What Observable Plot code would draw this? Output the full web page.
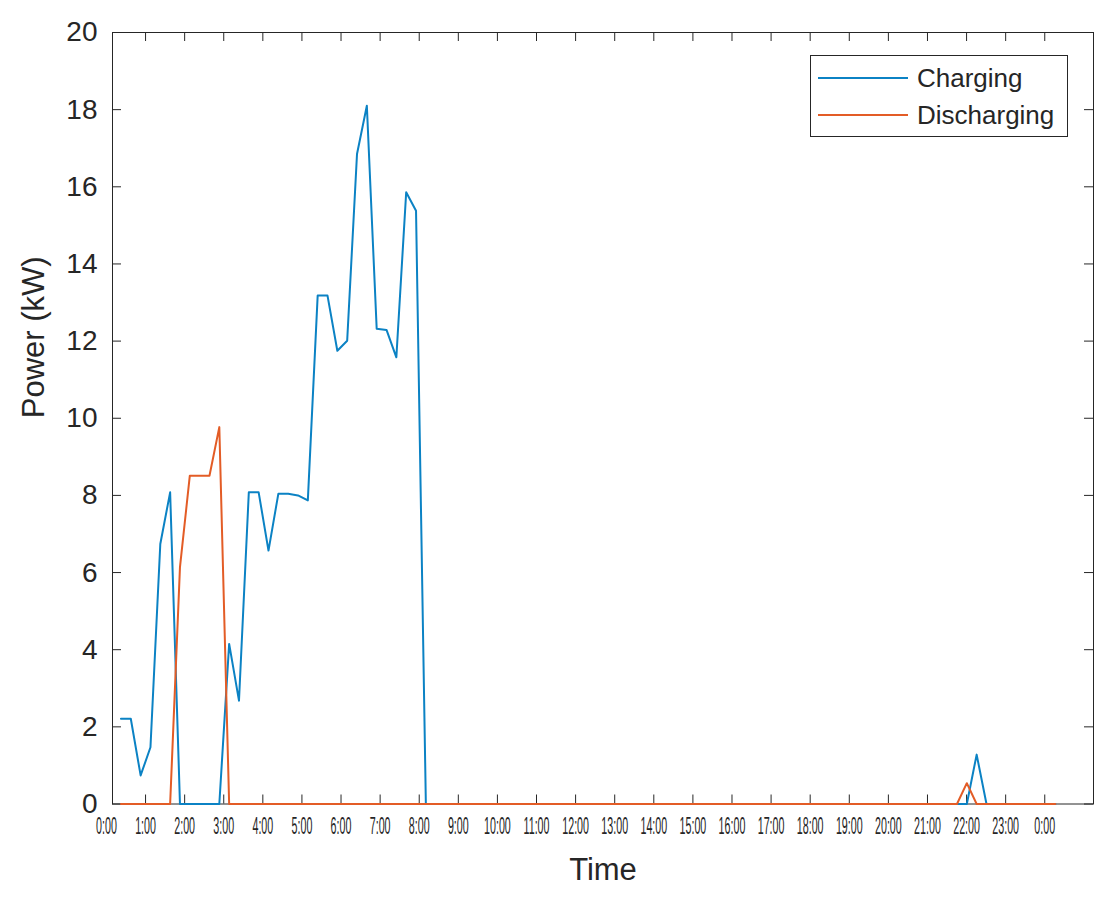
<!DOCTYPE html>
<html>
<head>
<meta charset="utf-8">
<script src="https://cdn.jsdelivr.net/npm/d3@7"></script>
<script src="https://cdn.jsdelivr.net/npm/@observablehq/plot@0.6"></script>
<style>
  html, body { margin: 0; padding: 0; background: #fff; overflow: hidden; }
  #wrap { position: relative; width: 1114px; height: 918px; }
  #wrap svg { position: absolute; left: 0; top: 0; }
  #legend {
    position: absolute; left: 810px; top: 55px; width: 258px; height: 82px;
    box-sizing: border-box; border: 1px solid #262626; background: #fff;
    font-family: "Liberation Sans", Arial, sans-serif; font-size: 26px; color: #262626;
  }
  #legend .row { position: absolute; left: 0; height: 30px; display: flex; align-items: center; white-space: nowrap; }
  #legend .sw { width: 90px; margin-left: 7px; height: 0; border-top: 2px solid; }
  #legend .lab { margin-left: 9px; line-height: 30px; }
</style>
</head>
<body>
<div id="wrap"><div id="legend"></div></div>
<script>
// 15-minute slots of the day (x positions of the samples)
const slots = d3.range(1, 97);

// Charging power (kW), one value per slot
const charging = [
  2.21, 2.21, 0.74, 1.47, 6.74, 8.08, 0, 0,
  0, 0, 0, 4.15, 2.68, 8.08, 8.08, 6.57,
  8.04, 8.04, 8.00, 7.87, 13.18, 13.18, 11.75, 12.01,
  16.85, 18.10, 12.32, 12.29, 11.58, 15.86, 15.38, 0,
  0, 0, 0, 0, 0, 0, 0, 0,
  0, 0, 0, 0, 0, 0, 0, 0,
  0, 0, 0, 0, 0, 0, 0, 0,
  0, 0, 0, 0, 0, 0, 0, 0,
  0, 0, 0, 0, 0, 0, 0, 0,
  0, 0, 0, 0, 0, 0, 0, 0,
  0, 0, 0, 0, 0, 0, 0, 1.28,
  0, 0, 0, 0, 0, 0, 0, 0
];

// Discharging power (kW), one value per slot
const discharging = [
  0, 0, 0, 0, 0, 0, 6.14, 8.51,
  8.51, 8.51, 9.77, 0, 0, 0, 0, 0,
  0, 0, 0, 0, 0, 0, 0, 0,
  0, 0, 0, 0, 0, 0, 0, 0,
  0, 0, 0, 0, 0, 0, 0, 0,
  0, 0, 0, 0, 0, 0, 0, 0,
  0, 0, 0, 0, 0, 0, 0, 0,
  0, 0, 0, 0, 0, 0, 0, 0,
  0, 0, 0, 0, 0, 0, 0, 0,
  0, 0, 0, 0, 0, 0, 0, 0,
  0, 0, 0, 0, 0, 0, 0.54, 0,
  0, 0, 0, 0, 0, 0, 0, 0
];

// Hour tick labels
const hourLabels = [
  "0:00", "1:00", "2:00", "3:00", "4:00", "5:00", "6:00", "7:00", "8:00",
  "9:00", "10:00", "11:00", "12:00", "13:00", "14:00", "15:00", "16:00",
  "17:00", "18:00", "19:00", "20:00", "21:00", "22:00", "23:00", "0:00"
];
const yTicks = [0, 2, 4, 6, 8, 10, 12, 14, 16, 18, 20];

const seriesNames = ["Charging", "Discharging"];

// ---- build tables ----
const rows = slots.map((s, i) => ({ slot: s, charging: charging[i], discharging: discharging[i] }));
// axis calibration of the original figure: hour h sits at this slot value
const hourSlot = h => 3.5 + 3.975 * (h - 1);
const hourTicks = hourLabels.map((t, h) => ({ h, slot: hourSlot(h), t }));
const tickMarks = hourTicks.filter(d => d.h > 0).map(d => d.slot);

const W = 1114, H = 918, mL = 112, mR = 21, mT = 32, mB = 114.5;
const frameW = W - mL - mR, frameH = H - mT - mB;
const tickLen = 9;
const ink = "#262626";
const blue = "#0b82c4", orange = "#e35c26";
const font = '"Liberation Sans", Arial, sans-serif';

const chart = Plot.plot({
  width: W, height: H,
  marginLeft: mL, marginRight: mR, marginTop: mT, marginBottom: mB,
  style: { fontFamily: font, color: ink, background: "#fff", overflow: "visible" },
  x: { domain: [0.14, 99.88], axis: null },
  y: { domain: [0, 20] },
  marks: [
    Plot.frame({ stroke: ink, strokeWidth: 1 }),
    // inward ticks on all four sides
    Plot.ruleX(tickMarks, { stroke: ink, insetTop: frameH - tickLen }),
    Plot.ruleX(tickMarks, { stroke: ink, insetBottom: frameH - tickLen }),
    Plot.ruleY(yTicks, { stroke: ink, insetRight: frameW - tickLen }),
    Plot.ruleY(yTicks, { stroke: ink, insetLeft: frameW - tickLen }),
    Plot.axisY(yTicks, { anchor: "left", tickSize: 0, tickPadding: 15, fontSize: 28, label: null, tickFormat: d => String(d) }),
    Plot.text(hourTicks, { x: "slot", text: "t", frameAnchor: "bottom", lineAnchor: "top", dy: 13, fontSize: 23.5, fill: ink }),
    Plot.line(rows, { x: "slot", y: "charging", stroke: blue, strokeWidth: 2 }),
    Plot.line(rows, { x: "slot", y: "discharging", stroke: orange, strokeWidth: 2 }),
    Plot.text(["Power (kW)"], { frameAnchor: "left", dx: -78.6, rotate: -90, fontSize: 31, fill: ink }),
    Plot.text(["Time"], { frameAnchor: "bottom", dy: 76, fontSize: 31, fill: ink })
  ]
});

// condensed hour labels, as in the original figure
const labelSet = new Set(hourLabels);
chart.querySelectorAll("text").forEach(t => {
  if (!labelSet.has(t.textContent.trim())) return;
  const tr = t.getAttribute("transform");
  if (tr) {
    t.setAttribute("transform", tr + " scale(0.455,1)");
  } else {
    const x = +t.getAttribute("x") || 0;
    t.setAttribute("transform", `translate(${x},0) scale(0.455,1) translate(${-x},0)`);
  }
});

document.getElementById("wrap").prepend(chart);

// legend
const legend = document.getElementById("legend");
const legendRowsY = [22, 59];
[blue, orange].forEach((c, i) => {
  const row = document.createElement("div");
  row.className = "row";
  row.style.top = (legendRowsY[i] - 15) + "px";
  const sw = document.createElement("span");
  sw.className = "sw";
  sw.style.borderTopColor = c;
  const lab = document.createElement("span");
  lab.className = "lab";
  lab.textContent = seriesNames[i];
  row.append(sw, lab);
  legend.append(row);
});
</script>
</body>
</html>
